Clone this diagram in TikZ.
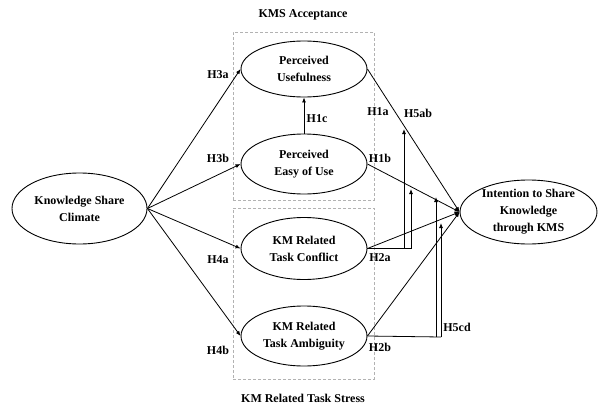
\documentclass[tikz,border=0pt]{standalone}
\usepackage{fontspec}
\setmainfont{Liberation Serif}
\usetikzlibrary{shapes.geometric,arrows.meta}
\begin{document}
\begin{tikzpicture}[x=1pt,y=-1pt,
  every node/.style={font=\fontsize{12}{17}\selectfont\bfseries},
  ell/.style={draw, ellipse, line width=0.9pt, inner sep=0pt, align=center},
  conn/.style={line width=0.8pt, -{Latex[length=5pt,width=4pt]}},
  plain/.style={line width=0.8pt},
  grp/.style={draw=gray!60, dashed, dash pattern=on 3pt off 2pt, line width=0.6pt},
  lbl/.style={inner sep=1pt}]
\useasboundingbox (0,0) rectangle (600,407);
% groups
\node[grp, minimum width=141pt, minimum height=168pt, inner sep=0pt] (g1) at (303.5,116) {};
\node[grp, minimum width=141pt, minimum height=171pt, inner sep=0pt] (g2) at (303.5,293.5) {};
\node (t1) at (303,15) {KMS Acceptance};
\node (t2) at (303,398) {KM Related Task Stress};
% ellipses
\node[ell, minimum width=135pt, minimum height=71pt] (ksc) at (79.5,208.5) {Knowledge Share\\Climate};
\node[ell, minimum width=126pt, minimum height=56pt] (pu) at (304,69) {Perceived\\Usefulness};
\node[ell, minimum width=126pt, minimum height=60pt] (pe) at (304,164) {Perceived\\Easy of Use};
\node[ell, minimum width=126pt, minimum height=62pt] (tc) at (304,248.5) {KM Related\\Task Conflict};
\node[ell, minimum width=126pt, minimum height=60pt] (ta) at (304,336) {KM Related\\Task Ambiguity};
\node[ell, minimum width=137pt, minimum height=64pt] (it) at (528.5,212) {Intention to Share\\Knowledge\\through KMS};
% main arrows
\draw[conn] (ksc.east) -- (pu.west);
\draw[conn] (ksc.east) -- (pe.west);
\draw[conn] (ksc.east) -- (tc.west);
\draw[conn] (ksc.east) -- (ta.west);
\draw[conn] (pe.north) -- (pu.south);
\draw[conn] (pu.east) -- (it.west);
\draw[conn] (pe.east) -- (it.west);
\draw[conn] (tc.east) -- (it.west);
\draw[conn] (ta.east) -- (it.west);
% moderation
\coordinate (c1) at (404,248.5);
\coordinate (c2) at (411,248.5);
\coordinate (a1) at (404,129);
\coordinate (a2) at (411,189);
\coordinate (c3) at (436,337);
\coordinate (c4) at (441,337);
\coordinate (a3) at (436,197);
\coordinate (a4) at (441,223);
\draw[plain] (tc.east) -- (c2);
\draw[conn] (c1) -- (a1);
\draw[conn] (c2) -- (a2);
\draw[plain] (ta.east) -- (c4);
\draw[conn] (c3) -- (a3);
\draw[conn] (c4) -- (a4);
% labels
\node[lbl] (h3a) at (218,75) {H3a};
\node[lbl] (h3b) at (218,158) {H3b};
\node[lbl] (h4a) at (218,260) {H4a};
\node[lbl] (h4b) at (218,350) {H4b};
\node[lbl] (h1c) at (317,119) {H1c};
\node[lbl] (h1a) at (378,112) {H1a};
\node[lbl] (h5ab) at (418,113) {H5ab};
\node[lbl] (h1b) at (380,158) {H1b};
\node[lbl] (h2a) at (380,258) {H2a};
\node[lbl] (h2b) at (380,347) {H2b};
\node[lbl] (h5cd) at (457,327) {H5cd};
\end{tikzpicture}
\end{document}
